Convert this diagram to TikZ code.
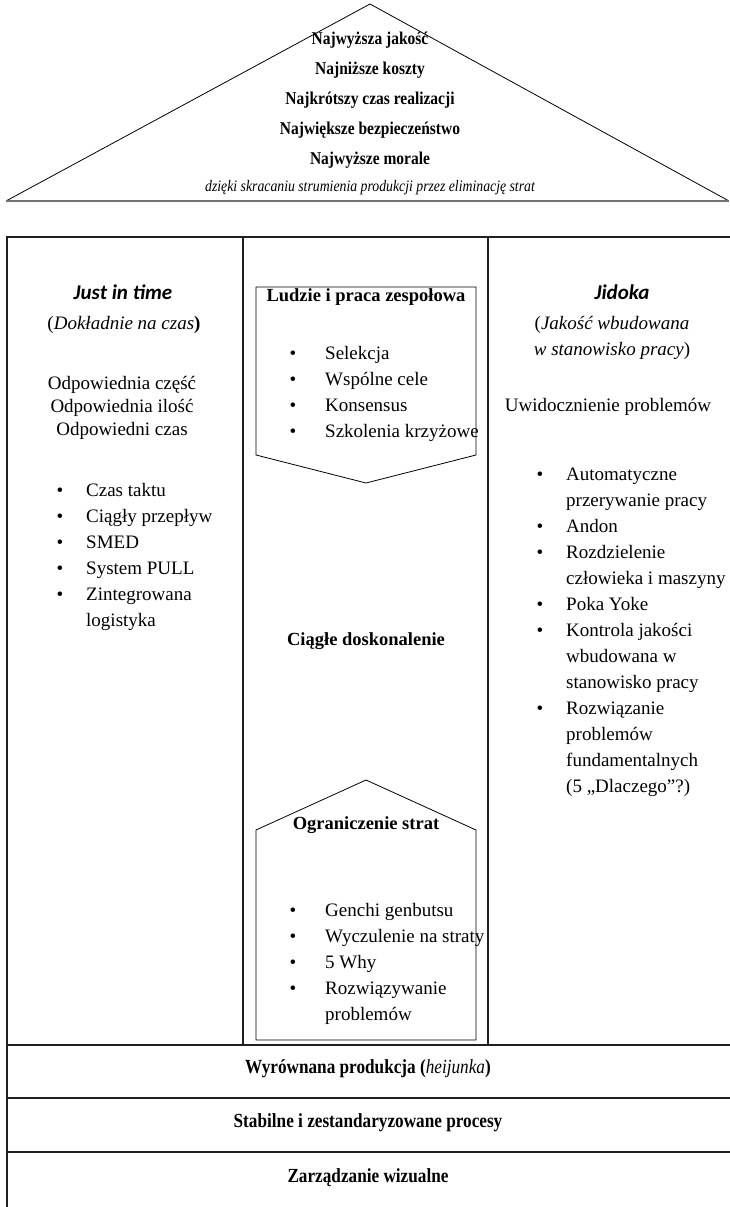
\documentclass[tikz,border=0pt]{standalone}
\usepackage{fontspec}
\setmainfont{Liberation Serif}
\newfontfamily\condfont{Liberation Serif}[FakeStretch=0.86]
\newfontfamily\calib{Carlito}
\begin{document}
\begin{tikzpicture}[x=1pt,y=-1pt,
  txt/.style={inner sep=0pt, anchor=mid, font=\fontsize{19}{23}\selectfont},
  txtb/.style={inner sep=0pt, anchor=mid, font=\fontsize{18.5}{22}\selectfont\bfseries},
  tritxt/.style={inner sep=0pt, anchor=mid, font=\condfont\fontsize{18}{22}\selectfont\bfseries},
  trisub/.style={inner sep=0pt, anchor=mid, font=\condfont\fontsize{16}{20}\selectfont\itshape},
  rowtxt/.style={inner sep=0pt, anchor=mid, font=\condfont\fontsize{20}{24}\selectfont\bfseries},
  item/.style={inner sep=0pt, anchor=mid west, font=\fontsize{19}{23}\selectfont},
  bul/.style={inner sep=0pt, anchor=mid, font=\fontsize{19}{23}\selectfont},
  hdr/.style={inner sep=0pt, anchor=mid, font=\calib\fontsize{21}{25}\selectfont\bfseries\itshape},
  frm/.style={line width=1.5pt, black!88},
  outl/.style={line width=0.8pt, black}
]
\useasboundingbox (0,0) rectangle (730,1207);

% ---- roof ----
\coordinate (apex) at (370,4);
\coordinate (bl) at (6,201);
\coordinate (br) at (729,201);
\draw[outl] (bl) -- (apex) -- (br);
\draw[line width=2pt, black!55] (bl) -- (br);
\node[tritxt] (r1) at (370,42) {Najwyższa jakość};
\node[tritxt] (r2) at (370,72) {Najniższe koszty};
\node[tritxt] (r3) at (370,102) {Najkrótszy czas realizacji};
\node[tritxt] (r4) at (370,132) {Największe bezpieczeństwo};
\node[tritxt] (r5) at (370,162) {Najwyższe morale};
\node[trisub] (r6) at (370,189) {dzięki skracaniu strumienia produkcji przez eliminację strat};

% ---- frame ----
\coordinate (ftl) at (7,237);
\coordinate (ftr) at (730,237);
\coordinate (fbl) at (7,1207);
\coordinate (d1t) at (243,237);
\coordinate (d1b) at (243,1045);
\coordinate (d2t) at (488,237);
\coordinate (d2b) at (488,1045);
\coordinate (h1l) at (7,1045);  \coordinate (h1r) at (730,1045);
\coordinate (h2l) at (7,1098);  \coordinate (h2r) at (730,1098);
\coordinate (h3l) at (7,1152);  \coordinate (h3r) at (730,1152);
\draw[frm] (ftr) -- (ftl) -- (fbl);
\draw[frm] (d1t) -- (d1b);
\draw[frm] (d2t) -- (d2b);
\draw[frm] (h1l) -- (h1r);
\draw[frm] (h2l) -- (h2r);
\draw[frm] (h3l) -- (h3r);

% ---- left column ----
\node[hdr] (jit) at (123,297) {Just in time};
\node[txt] (jit2) at (124,327) {(\textit{Dokładnie na czas}\textbf{)}};
\node[txt] (o1) at (122,387) {Odpowiednia część};
\node[txt] (o2) at (122,410) {Odpowiednia ilość};
\node[txt] (o3) at (122,433) {Odpowiedni czas};
\foreach \y/\t [count=\i] in {494/Czas taktu, 520/Ciągły przepływ, 546/SMED, 572/System PULL, 598/Zintegrowana}{
  \node[bul] (lb\i) at (60,\y) {\textbullet};
  \node[item] (li\i) at (86,\y) {\t};
}
\node[item] (li6) at (86,624) {logistyka};

% ---- centre column ----
\coordinate (p1a) at (256,287);
\coordinate (p1b) at (476,287);
\coordinate (p1c) at (476,455);
\coordinate (p1d) at (366,483);
\coordinate (p1e) at (256,455);
\draw[outl] (p1a) -- (p1b) -- (p1c) -- (p1d) -- (p1e) -- cycle;
\node[txtb] (lud) at (366,299) {Ludzie i praca zespołowa};
\foreach \y/\t [count=\i] in {357/Selekcja, 383/Wspólne cele, 409/Konsensus, 435/Szkolenia krzyżowe}{
  \node[bul] (cb\i) at (293,\y) {\textbullet};
  \node[item] (ci\i) at (325,\y) {\t};
}
\node[txtb] (cd) at (366,643) {Ciągłe doskonalenie};

\coordinate (p2a) at (256,1040);
\coordinate (p2b) at (256,830);
\coordinate (p2c) at (366,780);
\coordinate (p2d) at (476,830);
\coordinate (p2e) at (476,1040);
\draw[outl] (p2a) -- (p2b) -- (p2c) -- (p2d) -- (p2e) -- cycle;
\node[txtb] (ogr) at (366,827) {Ograniczenie strat};
\foreach \y/\t [count=\i] in {914/Genchi genbutsu, 940/Wyczulenie na straty, 966/5 Why, 992/Rozwiązywanie}{
  \node[bul] (db\i) at (293,\y) {\textbullet};
  \node[item] (di\i) at (325,\y) {\t};
}
\node[item] (di5) at (325,1018) {problemów};

% ---- right column ----
\node[hdr] (jid) at (622,297) {Jidoka};
\node[txt] (jid2) at (612,327) {(\textit{Jakość wbudowana}};
\node[txt] (jid3) at (612,353) {\textit{w stanowisko pracy})};
\node[txt] (uw) at (608,409) {Uwidocznienie problemów};
\foreach \y/\t in {478/1, 530/2, 556/3, 608/4, 634/5, 712/6}{
  \node[bul] (rb\t) at (540,\y) {\textbullet};
}
\foreach \y/\t [count=\i] in {478/Automatyczne, 504/przerywanie pracy, 530/Andon, 556/Rozdzielenie, 582/człowieka i maszyny, 608/Poka Yoke, 634/Kontrola jakości, 660/wbudowana w, 686/stanowisko pracy, 712/Rozwiązanie, 738/problemów, 764/fundamentalnych, 790/(5 „Dlaczego”?)}{
  \node[item] (ri\i) at (566,\y) {\t};
}

% ---- bottom rows ----
\node[rowtxt] (w1) at (368,1071) {Wyrównana produkcja (\textit{\mdseries heijunka})};
\node[rowtxt] (w2) at (368,1125) {Stabilne i zestandaryzowane procesy};
\node[rowtxt] (w3) at (368,1180) {Zarządzanie wizualne};
\end{tikzpicture}
\end{document}
